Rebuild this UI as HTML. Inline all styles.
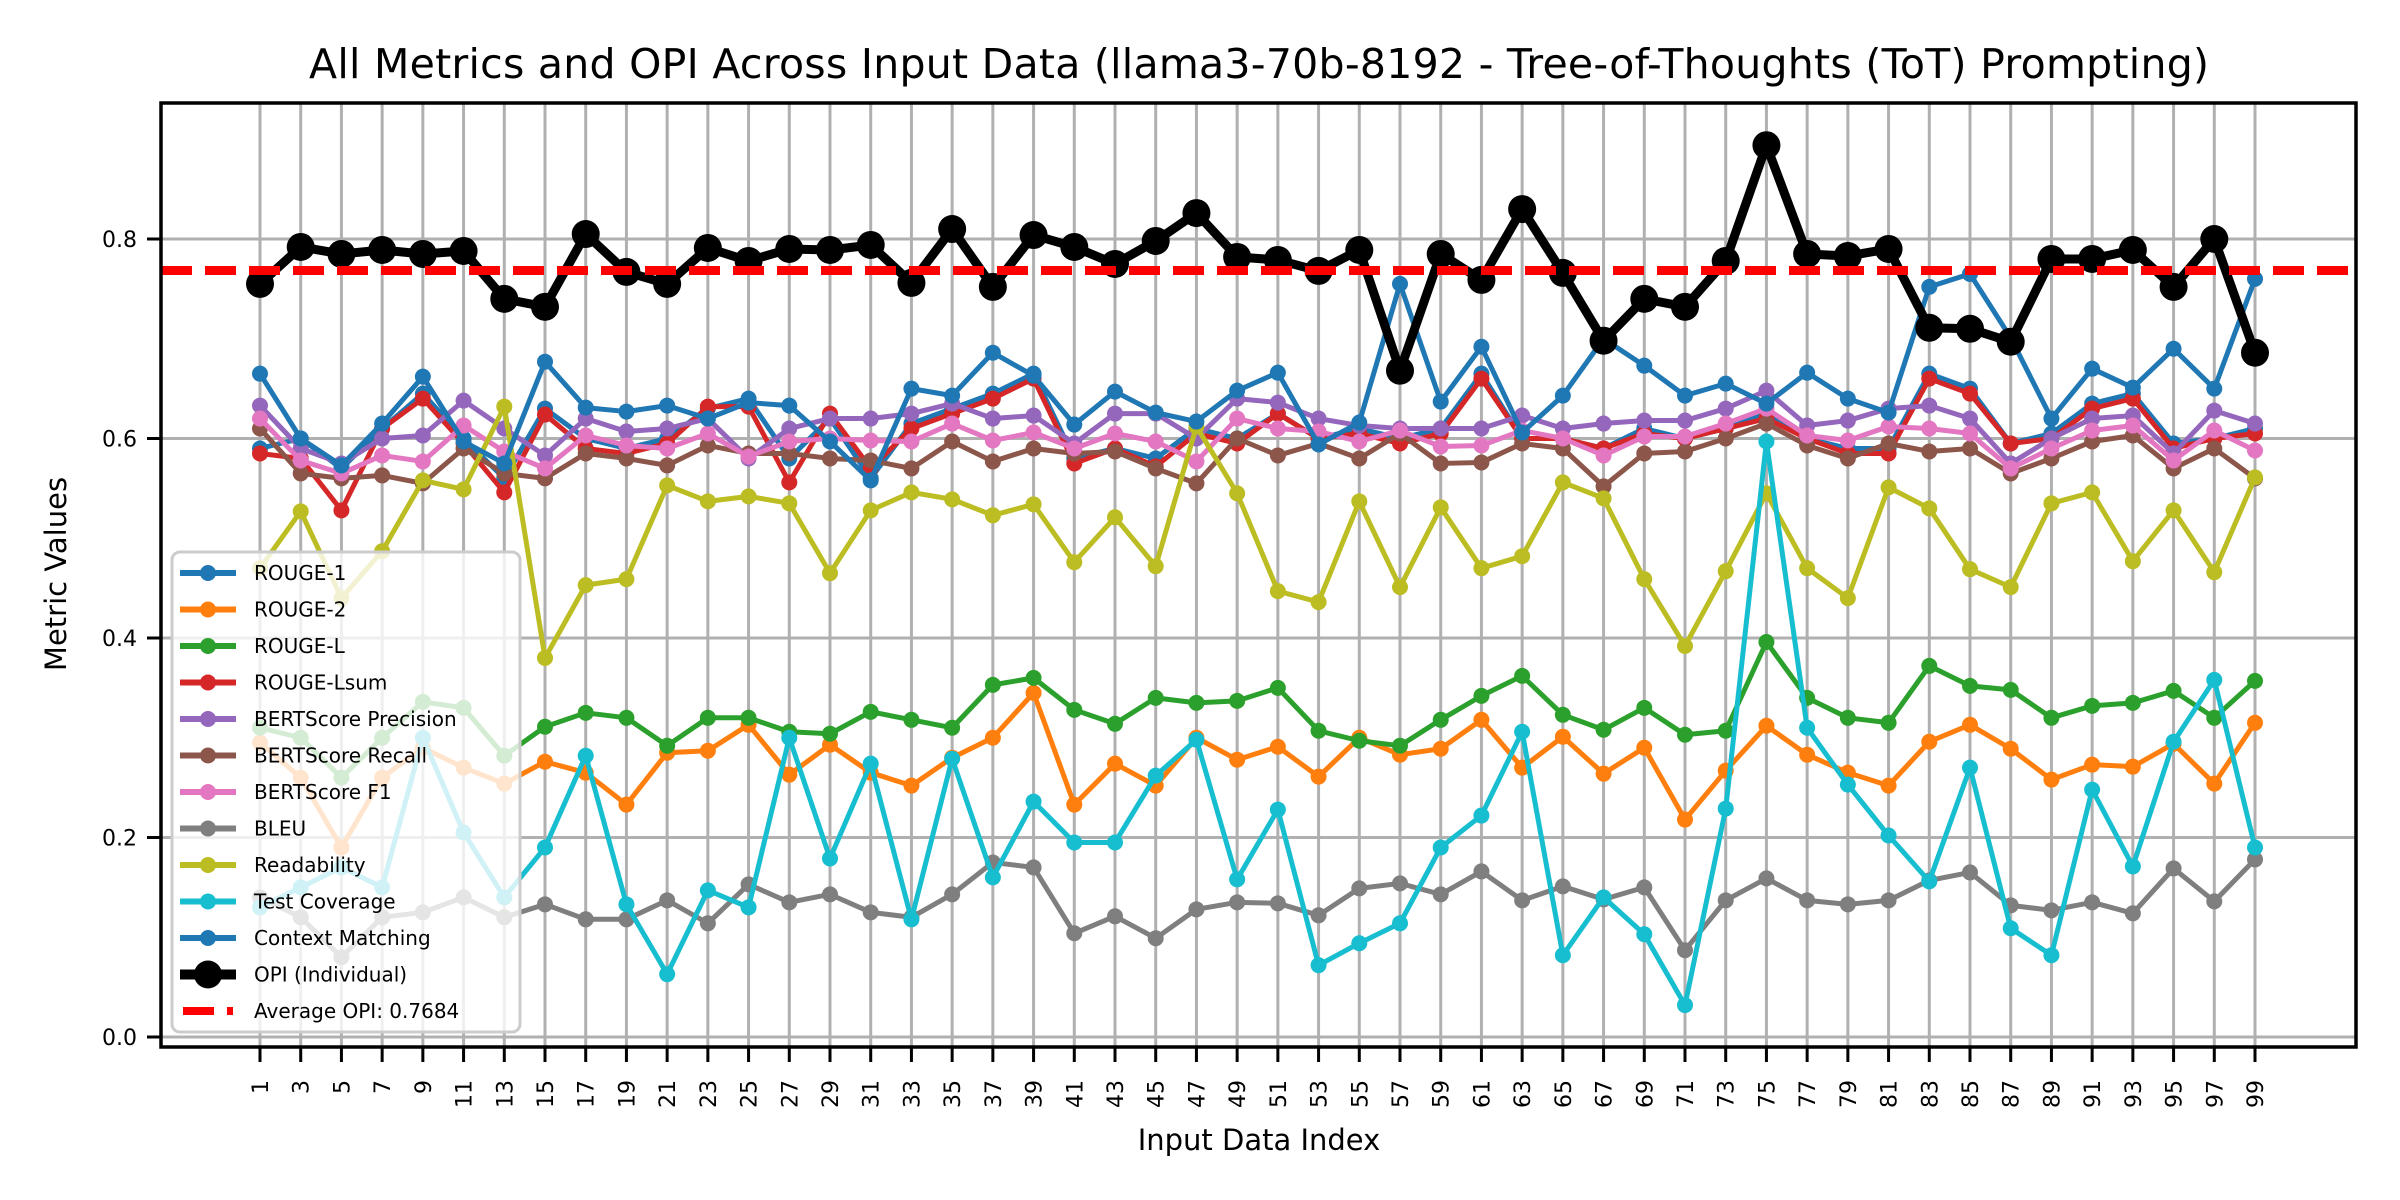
<!DOCTYPE html>
<html><head><meta charset="utf-8"><style>
html,body{margin:0;padding:0;background:#fff;}
svg{display:block;font-family:"DejaVu Sans","Liberation Sans",sans-serif;}
</style></head><body>
<svg id="chart" width="2400" height="1200" viewBox="0 0 2400 1200">
<rect width="2400" height="1200" fill="#fff"/>
<text x="1259" y="78" font-size="41" text-anchor="middle" textLength="1900">All Metrics and OPI Across Input Data (llama3-70b-8192 - Tree-of-Thoughts (ToT) Prompting)</text>
<text x="1259" y="1150" font-size="29" text-anchor="middle">Input Data Index</text>
<text transform="translate(66,574) rotate(-90)" font-size="29" text-anchor="middle">Metric Values</text>
<g id="grid"></g><g id="series"></g><g id="axes"></g><g id="legend"></g>
</svg>
<script>
const indices=[];for(let i=1;i<=99;i+=2)indices.push(i);
const yTicks=[0,0.2,0.4,0.6,0.8];
const yTickLabels=["0.0","0.2","0.4","0.6","0.8"];
const avgOPI=0.7684;
const rouge1=[0.59,0.60,0.57,0.61,0.645,0.60,0.56,0.63,0.60,0.59,0.60,0.63,0.64,0.58,0.62,0.56,0.615,0.63,0.645,0.665,0.58,0.59,0.58,0.61,0.60,0.625,0.60,0.61,0.60,0.61,0.665,0.60,0.60,0.59,0.61,0.60,0.61,0.625,0.60,0.59,0.59,0.665,0.65,0.595,0.605,0.635,0.645,0.595,0.60,0.61];
const rouge2=[0.295,0.26,0.19,0.26,0.29,0.27,0.254,0.276,0.265,0.233,0.285,0.287,0.313,0.263,0.293,0.265,0.252,0.28,0.30,0.345,0.233,0.274,0.252,0.300,0.278,0.291,0.261,0.30,0.283,0.289,0.318,0.27,0.301,0.264,0.29,0.218,0.267,0.312,0.283,0.265,0.252,0.296,0.313,0.289,0.258,0.273,0.271,0.294,0.254,0.315];
const rougeL=[0.31,0.30,0.26,0.30,0.336,0.33,0.282,0.311,0.325,0.32,0.292,0.32,0.32,0.306,0.304,0.326,0.318,0.31,0.353,0.36,0.328,0.314,0.34,0.335,0.337,0.35,0.307,0.297,0.292,0.318,0.342,0.362,0.323,0.308,0.33,0.303,0.307,0.396,0.34,0.32,0.315,0.372,0.352,0.348,0.32,0.332,0.335,0.347,0.32,0.357];
const rougeLsum=[0.585,0.58,0.528,0.61,0.64,0.595,0.546,0.624,0.59,0.585,0.595,0.632,0.632,0.556,0.625,0.57,0.61,0.625,0.64,0.66,0.575,0.59,0.572,0.605,0.595,0.625,0.60,0.605,0.595,0.605,0.66,0.60,0.60,0.59,0.605,0.60,0.61,0.62,0.60,0.585,0.585,0.66,0.645,0.595,0.60,0.63,0.64,0.59,0.60,0.605];
const bertP=[0.633,0.59,0.575,0.60,0.603,0.638,0.61,0.583,0.62,0.607,0.61,0.62,0.58,0.61,0.62,0.62,0.625,0.635,0.62,0.623,0.595,0.625,0.625,0.60,0.64,0.636,0.62,0.613,0.61,0.61,0.61,0.623,0.61,0.615,0.618,0.618,0.63,0.648,0.613,0.618,0.63,0.633,0.62,0.575,0.60,0.62,0.623,0.585,0.628,0.615];
const bertR=[0.61,0.565,0.56,0.563,0.555,0.59,0.565,0.56,0.585,0.58,0.573,0.593,0.585,0.585,0.58,0.578,0.57,0.597,0.577,0.59,0.585,0.587,0.57,0.555,0.60,0.583,0.595,0.58,0.605,0.575,0.576,0.595,0.59,0.552,0.585,0.587,0.60,0.615,0.593,0.58,0.595,0.587,0.59,0.565,0.58,0.597,0.603,0.57,0.59,0.56];
const bertF1=[0.62,0.578,0.565,0.583,0.577,0.613,0.587,0.57,0.603,0.593,0.59,0.605,0.582,0.597,0.60,0.598,0.597,0.615,0.598,0.606,0.59,0.605,0.597,0.577,0.62,0.61,0.607,0.597,0.608,0.592,0.593,0.608,0.60,0.583,0.602,0.602,0.615,0.63,0.603,0.598,0.612,0.61,0.605,0.57,0.59,0.608,0.613,0.578,0.608,0.588];
const bleu=[0.14,0.12,0.08,0.12,0.125,0.14,0.12,0.133,0.118,0.118,0.137,0.114,0.153,0.135,0.143,0.125,0.12,0.143,0.175,0.17,0.104,0.121,0.099,0.128,0.135,0.134,0.122,0.149,0.154,0.143,0.166,0.137,0.151,0.138,0.15,0.087,0.137,0.159,0.137,0.133,0.137,0.157,0.165,0.132,0.127,0.135,0.124,0.169,0.136,0.178];
const readability=[0.47,0.527,0.44,0.487,0.558,0.549,0.632,0.38,0.453,0.459,0.553,0.537,0.542,0.535,0.465,0.528,0.546,0.539,0.523,0.534,0.476,0.521,0.472,0.612,0.545,0.447,0.436,0.537,0.451,0.531,0.470,0.482,0.556,0.540,0.459,0.392,0.467,0.545,0.470,0.440,0.551,0.530,0.469,0.451,0.535,0.546,0.477,0.528,0.466,0.561];
const testCoverage=[0.13,0.15,0.17,0.15,0.30,0.205,0.14,0.19,0.282,0.133,0.063,0.147,0.13,0.30,0.179,0.274,0.118,0.279,0.16,0.236,0.195,0.195,0.262,0.298,0.158,0.228,0.072,0.094,0.114,0.19,0.222,0.306,0.082,0.14,0.103,0.032,0.229,0.597,0.31,0.253,0.202,0.156,0.27,0.109,0.082,0.248,0.171,0.296,0.358,0.19];
const contextMatching=[0.665,0.600,0.573,0.615,0.662,0.597,0.575,0.677,0.631,0.627,0.633,0.620,0.636,0.633,0.597,0.558,0.650,0.643,0.686,0.663,0.614,0.647,0.626,0.617,0.648,0.666,0.594,0.616,0.755,0.637,0.692,0.606,0.643,0.700,0.673,0.643,0.655,0.635,0.666,0.640,0.626,0.752,0.765,0.701,0.620,0.670,0.651,0.690,0.650,0.760];
const opi=[0.755,0.792,0.785,0.789,0.785,0.788,0.740,0.732,0.805,0.767,0.755,0.791,0.778,0.790,0.789,0.794,0.756,0.810,0.752,0.804,0.792,0.775,0.798,0.826,0.782,0.779,0.768,0.789,0.668,0.785,0.759,0.830,0.766,0.698,0.740,0.732,0.778,0.894,0.785,0.783,0.790,0.711,0.710,0.697,0.780,0.780,0.789,0.752,0.800,0.686];
const seriesNames=["ROUGE-1","ROUGE-2","ROUGE-L","ROUGE-Lsum","BERTScore Precision","BERTScore Recall","BERTScore F1","BLEU","Readability","Test Coverage","Context Matching"];
const seriesValues=[rouge1,rouge2,rougeL,rougeLsum,bertP,bertR,bertF1,bleu,readability,testCoverage,contextMatching];
const colors=["#1f77b4","#ff7f0e","#2ca02c","#d62728","#9467bd","#8c564b","#e377c2","#7f7f7f","#bcbd22","#17becf","#1f77b4"];

const NS="http://www.w3.org/2000/svg";
const L=161,R=2356,T=103,B=1047;
function xs(i){return 260+(i-1)*(1995/98);}
function ys(v){return 1037-v*997.5;}
function mk(tag,attrs,parent){const e=document.createElementNS(NS,tag);for(const k in attrs)e.setAttribute(k,attrs[k]);parent.appendChild(e);return e;}
const grid=document.getElementById('grid'),ser=document.getElementById('series'),axes=document.getElementById('axes'),leg=document.getElementById('legend');
indices.forEach(i=>{
  const g=mk('line',{x1:xs(i),x2:xs(i),y1:T,y2:B,stroke:'#b0b0b0','stroke-width':3},grid);
  
  
  const t=mk('line',{x1:xs(i),x2:xs(i),y1:B,y2:B+15,stroke:'#000','stroke-width':3},axes);
  
  
  const lb=mk('text',{transform:`translate(${xs(i)+8},1080) rotate(-90)`,'font-size':22,'text-anchor':'end'},axes);
  lb.textContent=i;
  
  
});
yTicks.forEach((v,k)=>{
  const g=mk('line',{x1:L,x2:R,y1:ys(v),y2:ys(v),stroke:'#b0b0b0','stroke-width':3},grid);
  
  
  const t=mk('line',{x1:L-14,x2:L,y1:ys(v),y2:ys(v),stroke:'#000','stroke-width':3},axes);
  
  
  const lb=mk('text',{x:L-24,y:ys(v)+8,'font-size':22,'text-anchor':'end'},axes);
  lb.textContent=yTickLabels[k];
  
  
});
function drawSeries(vals,color,lw,r,name){
  const g=mk('g',{},ser);
  
  
  const pts=vals.map((v,k)=>xs(indices[k])+','+ys(v)).join(' ');
  mk('polyline',{points:pts,fill:'none',stroke:color,'stroke-width':lw,'stroke-linejoin':'round'},g);
  vals.forEach((v,k)=>{
    const c=mk('circle',{cx:xs(indices[k]),cy:ys(v),r:r,fill:color},g);
    
    
  });
}
seriesValues.forEach((vals,s)=>drawSeries(vals,colors[s],5,8,'series-'+seriesNames[s].toLowerCase().replace(/[^a-z0-9]+/g,'-')));
drawSeries(opi,'#000',9,14,'series-opi');
const avg=mk('line',{x1:L,x2:R,y1:ys(avgOPI),y2:ys(avgOPI),stroke:'#ff0000','stroke-width':9,'stroke-dasharray':'31 13'},ser);


const frame=mk('rect',{x:L,y:T,width:R-L,height:B-T,fill:'none',stroke:'#000','stroke-width':3.5},axes);


// legend
const box=mk('rect',{x:172,y:552,width:348,height:480,rx:8,fill:'#fff','fill-opacity':0.8,stroke:'#cccccc','stroke-width':3},leg);


const legNames=seriesNames.concat(["OPI (Individual)","Average OPI: 0.7684"]);
legNames.forEach((n,k)=>{
  const cy=573+k*36.5;
  const g=mk('g',{},leg);
  
  
  if(k<11){mk('line',{x1:180,x2:236,y1:cy,y2:cy,stroke:colors[k],'stroke-width':6},g);mk('circle',{cx:208,cy:cy,r:8,fill:colors[k]},g);}
  else if(k===11){mk('line',{x1:180,x2:236,y1:cy,y2:cy,stroke:'#000','stroke-width':10},g);mk('circle',{cx:208,cy:cy,r:14,fill:'#000'},g);}
  else{mk('line',{x1:183,x2:233,y1:cy,y2:cy,stroke:'#ff0000','stroke-width':8,'stroke-dasharray':'31 13'},g);}
  const t=mk('text',{x:254,y:cy+7,'font-size':20},g);
  t.textContent=n;
});
</script>
</body></html>
